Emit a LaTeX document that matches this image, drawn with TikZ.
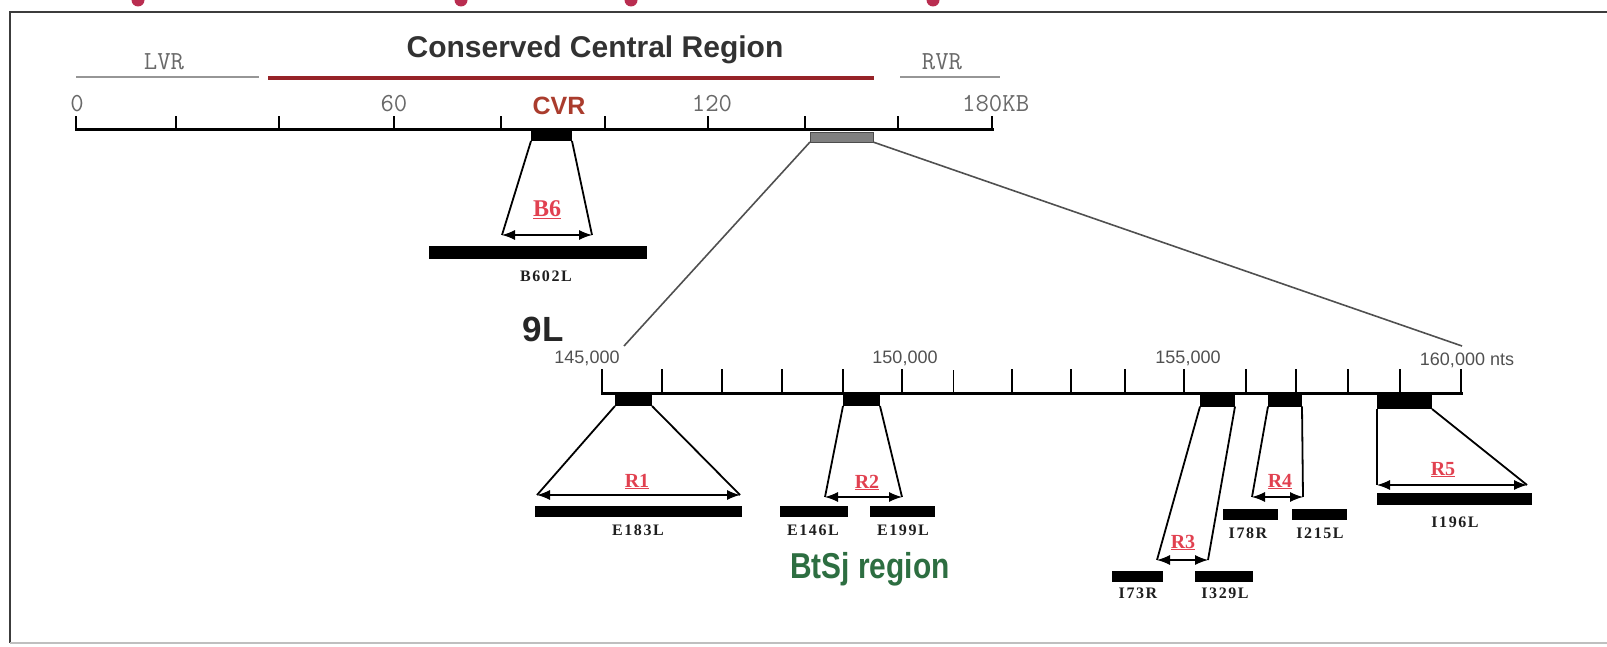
\documentclass[tikz,border=0pt]{standalone}
\usepackage{fontspec}
\usepackage{graphicx}
\setmainfont{Liberation Serif}
\newfontfamily\sansfont{Liberation Sans}
\newfontfamily\genefont{Liberation Serif}[LetterSpace=10]
\usetikzlibrary{arrows.meta,positioning}

\definecolor{framegray}{RGB}{60,60,60}
\definecolor{pinred}{RGB}{185,45,80}
\definecolor{headgray}{RGB}{50,50,50}
\definecolor{ccrred}{RGB}{150,35,40}
\definecolor{lightln}{RGB}{150,150,150}
\definecolor{kbgray}{RGB}{105,105,105}
\definecolor{cvrtxt}{RGB}{170,60,45}
\definecolor{tagred}{RGB}{225,65,80}
\definecolor{ntgray}{RGB}{80,80,80}
\definecolor{btsj}{RGB}{45,110,65}
\definecolor{genetxt}{RGB}{30,30,30}
\definecolor{zoomgray}{RGB}{80,80,80}

\begin{document}
\begin{tikzpicture}[x=1pt,y=-1pt,>=Latex,
  axis/.style={line width=3pt,line cap=rect},
  tick/.style={line width=2.6pt},
  blk/.style={fill=black,inner sep=0pt,outer sep=0pt,minimum height=13pt},
  bar/.style={fill=black,inner sep=0pt,outer sep=0pt,minimum height=11pt},
  leg/.style={line width=1.8pt},
  span/.style={{Latex[length=13pt,width=10pt]}-{Latex[length=13pt,width=10pt]},line width=1.1pt},
  gene/.style={font=\fontsize{16}{16}\genefont\bfseries,text=genetxt,anchor=base,inner sep=0pt},
  tag/.style={font=\fontsize{20}{20}\rmfamily\bfseries,text=tagred,anchor=base,inner sep=0pt},
  kb/.style={font=\fontsize{26}{26}\ttfamily,text=kbgray,anchor=base,inner sep=0pt},
  nt/.style={font=\fontsize{18}{18}\sansfont,text=ntgray,anchor=base,inner sep=0pt}]
  \useasboundingbox (0,0) rectangle (1607,647);
  \clip (0,0) rectangle (1607,647);

  % frame, open on the right
  \draw[line width=2.4pt,framegray] (1612,12) -- (10,12) -- (10,643);
  \draw[line width=1.2pt,black!25] (10,643) -- (1612,643);
  \foreach \x in {138,461,631,933} {\fill[pinred] (\x,0) circle (6.5);}

  % whole genome, 0--180 kb
  \node[font=\fontsize{30}{30}\sansfont\bfseries,text=headgray,anchor=base,inner sep=0pt]
    (ccr) at (595,58) {Conserved Central Region};
  \draw[line width=2.5pt,lightln] (76,77) -- (259,77);
  \draw[line width=3.5pt,ccrred] (268,78) -- (874,78);
  \draw[line width=2.5pt,lightln] (900,77) -- (1000,77);
  \node[kb] (lvr) at (164,70) {LVR};
  \node[kb] (rvr) at (942,70) {RVR};
  \draw[axis] (76,130) -- (992,130);
  \foreach \x in {76,176,279,394,501,605,708,805,898,992}
    {\draw[tick] (\x,130) -- (\x,116);}
  \foreach \x/\n in {77/0,394/60,712/120}
    {\node[kb] (kb\n) at (\x,112) {\n};}
  \node[kb,anchor=base west] (kb180) at (962,112) {180KB};
  \node[font=\fontsize{25}{25}\sansfont\bfseries,text=cvrtxt,anchor=base,inner sep=0pt]
    (cvr) at (559,115) {CVR};
  \node[blk,minimum width=41pt,minimum height=11pt] (cvrblk) at (551.5,135.5) {};
  \node[fill=black!50,draw=black!70,line width=0.8pt,inner sep=0pt,outer sep=0pt,
    minimum width=63pt,minimum height=10pt] (zoomblk) at (841.5,137) {};

  % B602L under the CVR
  \coordinate (b6l) at (502,235); \coordinate (b6r) at (592,235);
  \draw[leg] (cvrblk.south west) -- (b6l);
  \draw[leg] (cvrblk.south east) -- (b6r);
  \draw[span] (b6l) -- (b6r);
  \node[tag,font=\fontsize{24}{24}\rmfamily\bfseries] (b6) at (547,217) {\underline{B6}};
  \node[bar,minimum width=218pt,minimum height=13pt] (b602) at (538,252.5) {};
  \node[gene] (b602t) at (546,281) {B602L};

  % 9L enlargement, 145--160 knt
  \node[font=\fontsize{35}{35}\sansfont\bfseries,text=black!85,anchor=base,inner sep=0pt]
    (nine) at (543,341) {9L};
  \coordinate (zl) at (624,346); \coordinate (zr) at (1462,346);
  \draw[line width=1.6pt,zoomgray] (zoomblk.south west) -- (zl);
  \draw[line width=1.6pt,zoomgray] (zoomblk.south east) -- (zr);
  \draw[axis] (602,393) -- (1461,393);
  \foreach \x in {602,662,722,782,843,902,1012,1071,1125,1184,1246,1296,1348,1400,1461}
    {\draw[tick] (\x,393) -- (\x,369);}
  \draw[line width=1pt] (953,393) -- (953,370);
  \node[nt] (n145) at (587,363) {145,000};
  \node[nt] (n150) at (905,363) {150,000};
  \node[nt] (n155) at (1188,363) {155,000};
  \node[nt] (n160) at (1467,365) {160,000 nts};

  % R1
  \node[blk,minimum width=37pt] (bA) at (633.5,399.5) {};
  \coordinate (aL) at (537,495); \coordinate (aR) at (740,495);
  \draw[leg] (bA.south west) -- (aL); \draw[leg] (bA.south east) -- (aR);
  \draw[span] (aL) -- (aR);
  \node[tag] (r1) at (637,487) {\underline{R1}};
  \node[bar,minimum width=207pt] (e183) at (638.5,511.5) {};
  \node[gene] (e183t) at (638,535) {E183L};

  % R2
  \node[blk,minimum width=37pt] (bB) at (861.5,399.5) {};
  \coordinate (bL) at (825,497); \coordinate (bR) at (902,497);
  \draw[leg] (bB.south west) -- (bL); \draw[leg] (bB.south east) -- (bR);
  \draw[span] (bL) -- (bR);
  \node[tag] (r2) at (867,488) {\underline{R2}};
  \node[bar,minimum width=68pt] (e146) at (814,511.5) {};
  \node[bar,minimum width=65pt] (e199) at (902.5,511.5) {};
  \node[gene] (e146t) at (813,535) {E146L};
  \node[gene] (e199t) at (903,535) {E199L};
  \node[font=\fontsize{36}{36}\sansfont\bfseries,text=btsj,anchor=base,inner sep=0pt]
    (btsj) at (870,578) {\scalebox{0.83}[1]{BtSj region}};

  % R3
  \node[blk,minimum width=35pt] (bC) at (1217.5,400) {};
  \coordinate (cL) at (1157,560); \coordinate (cR) at (1208,560);
  \draw[leg] (bC.south west) -- (cL); \draw[leg] (bC.south east) -- (cR);
  \draw[span] (cL) -- (cR);
  \node[tag] (r3) at (1183,548) {\underline{R3}};
  \node[bar,minimum width=51pt] (i73) at (1137.5,576.5) {};
  \node[bar,minimum width=58pt] (i329) at (1224,576.5) {};
  \node[gene] (i73t) at (1138,598) {I73R};
  \node[gene] (i329t) at (1225,598) {I329L};

  % R4
  \node[blk,minimum width=34pt] (bD) at (1285,400) {};
  \coordinate (dL) at (1252,497); \coordinate (dR) at (1303,497);
  \draw[leg] (bD.south west) -- (dL); \draw[leg] (bD.south east) -- (dR);
  \draw[span] (dL) -- (dR);
  \node[tag] (r4) at (1280,487) {\underline{R4}};
  \node[bar,minimum width=55pt] (i78) at (1250.5,514.5) {};
  \node[bar,minimum width=55pt] (i215) at (1319.5,514.5) {};
  \node[gene] (i78t) at (1248,538) {I78R};
  \node[gene] (i215t) at (1320,538) {I215L};

  % R5
  \node[blk,minimum width=55pt,minimum height=15pt] (bE) at (1404.5,401.5) {};
  \coordinate (eL) at (1377,485); \coordinate (eR) at (1527,485);
  \draw[leg] (bE.south west) -- (eL); \draw[leg] (bE.south east) -- (eR);
  \draw[span] (eL) -- (eR);
  \node[tag] (r5) at (1443,475) {\underline{R5}};
  \node[bar,minimum width=155pt,minimum height=12pt] (i196) at (1454.5,499) {};
  \node[gene] (i196t) at (1455,527) {I196L};
\end{tikzpicture}
\end{document}
